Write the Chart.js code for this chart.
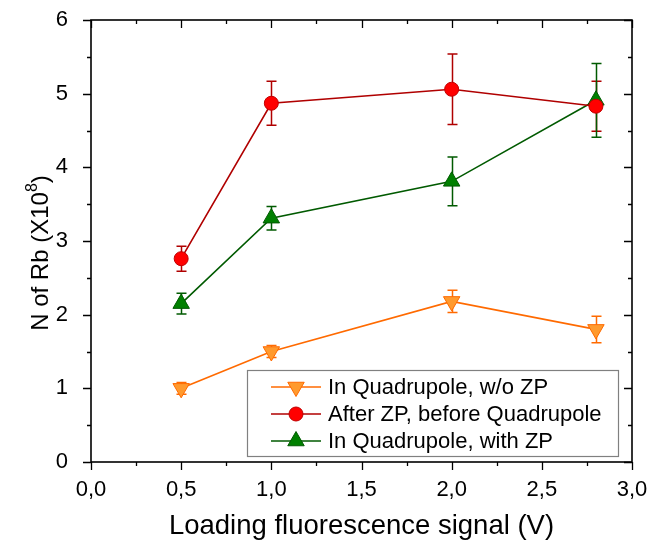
<!DOCTYPE html>
<html>
<head>
<meta charset="utf-8">
<script src="https://cdn.jsdelivr.net/npm/chart.js@4/dist/chart.umd.min.js"></script>
<style>
  html, body { margin: 0; padding: 0; background: #fff; }
  #wrap { width: 653px; height: 547px; }
</style>
</head>
<body>
<div id="wrap"><canvas id="myChart" width="653" height="547"></canvas></div>
<script>
const xValues = [0.5, 1.0, 2.0, 2.8];
const quadNoZp = [1.00, 1.50, 2.18, 1.80];
const quadNoZpErr = [0.08, 0.08, 0.15, 0.18];
const afterZp = [2.76, 4.87, 5.06, 4.83];
const afterZpErr = [0.17, 0.30, 0.48, 0.34];
const quadZp = [2.15, 3.31, 3.81, 4.91];
const quadZpErr = [0.14, 0.16, 0.33, 0.50];
const seriesLabels = ['In Quadrupole, w/o ZP', 'After ZP, before Quadrupole', 'In Quadrupole, with ZP'];

const FONT = '"Liberation Sans", Arial, sans-serif';

const toPoints = (vals) => vals.map((v, i) => ({x: xValues[i], y: v}));

const styles = [
    {line: '#ff6a00', fill: '#ff9a2e', border: '#ff6a00', style: 'triangle', rot: 180, r: 9.5, err: quadNoZpErr},
    {line: '#b00000', fill: '#ff0000', border: '#c00000', style: 'circle', rot: 0, r: 7, err: afterZpErr},
    {line: '#005a00', fill: '#008000', border: '#005a00', style: 'triangle', rot: 0, r: 9.5, err: quadZpErr}
];

const data = {
    datasets: [quadNoZp, afterZp, quadZp].map((vals, k) => ({
        label: seriesLabels[k],
        data: toPoints(vals),
        borderColor: styles[k].line,
        borderWidth: 1.6,
        backgroundColor: styles[k].fill,
        pointBackgroundColor: styles[k].fill,
        pointBorderColor: styles[k].border,
        pointBorderWidth: 1,
        pointStyle: styles[k].style,
        pointRotation: styles[k].rot,
        pointRadius: styles[k].r,
        errors: styles[k].err,
        tension: 0
    }))
};

// error bars, frame, ticks, y title and legend
const extras = {
    id: 'extras',
    beforeDatasetsDraw(chart) {
        const ctx = chart.ctx;
        const xs = chart.scales.x, ys = chart.scales.y;
        ctx.save();
        ctx.lineWidth = 1.5;
        chart.data.datasets.forEach(ds => {
            ctx.strokeStyle = ds.borderColor;
            ds.data.forEach((p, i) => {
                const px = Math.round(xs.getPixelForValue(p.x)) + 0.5;
                const top = ys.getPixelForValue(p.y + ds.errors[i]);
                const bot = ys.getPixelForValue(p.y - ds.errors[i]);
                ctx.beginPath();
                ctx.moveTo(px, top); ctx.lineTo(px, bot);
                ctx.moveTo(px - 5, top); ctx.lineTo(px + 5, top);
                ctx.moveTo(px - 5, bot); ctx.lineTo(px + 5, bot);
                ctx.stroke();
            });
        });
        ctx.restore();
    },
    afterDraw(chart) {
        const ctx = chart.ctx;
        const a = chart.chartArea;
        const xs = chart.scales.x, ys = chart.scales.y;
        ctx.save();
        ctx.strokeStyle = '#000';
        ctx.lineWidth = 1.6;
        ctx.strokeRect(a.left, a.top, a.right - a.left, a.bottom - a.top);
        ctx.lineWidth = 1.3;
        ctx.beginPath();
        for (let v = 0; v <= 3.0001; v += 0.25) {
            const px = Math.round(xs.getPixelForValue(v)) + 0.5;
            const major = Math.abs(v * 2 - Math.round(v * 2)) < 1e-6;
            const len = major ? 8 : 4;
            ctx.moveTo(px, a.bottom); ctx.lineTo(px, a.bottom + len);
            ctx.moveTo(px, a.top); ctx.lineTo(px, a.top + len);
        }
        for (let v = 0; v <= 6.0001; v += 0.5) {
            const py = Math.round(ys.getPixelForValue(v)) + 0.5;
            const major = Math.abs(v - Math.round(v)) < 1e-6;
            const len = major ? 8 : 4;
            ctx.moveTo(a.left, py); ctx.lineTo(a.left - len, py);
            ctx.moveTo(a.right, py); ctx.lineTo(a.right - len, py);
        }
        ctx.stroke();

        // y title with superscript
        ctx.save();
        ctx.translate(48, 253);
        ctx.rotate(-Math.PI / 2);
        ctx.fillStyle = '#000';
        ctx.textBaseline = 'alphabetic';
        const main = 'N of Rb (X10';
        ctx.font = '24px ' + FONT;
        const w1 = ctx.measureText(main).width;
        ctx.font = '16px ' + FONT;
        const w2 = ctx.measureText('8').width;
        ctx.font = '24px ' + FONT;
        const w3 = ctx.measureText(')').width;
        const x0 = -(w1 + w2 + w3) / 2;
        ctx.fillText(main, x0, 0);
        ctx.font = '16px ' + FONT;
        ctx.fillText('8', x0 + w1, -11);
        ctx.font = '24px ' + FONT;
        ctx.fillText(')', x0 + w1 + w2, 0);
        ctx.restore();

        // legend
        ctx.fillStyle = '#fff';
        ctx.fillRect(247, 370, 371, 86);
        ctx.strokeStyle = '#808080';
        ctx.lineWidth = 1.2;
        ctx.strokeRect(247.5, 370.5, 371, 86);
        const rows = [387, 414, 441];
        chart.data.datasets.forEach((ds, k) => {
            const y = rows[k];
            ctx.strokeStyle = ds.borderColor;
            ctx.lineWidth = 1.6;
            ctx.beginPath();
            ctx.moveTo(271, y); ctx.lineTo(321, y);
            ctx.stroke();
            ctx.fillStyle = ds.pointBackgroundColor;
            ctx.strokeStyle = ds.pointBorderColor;
            ctx.lineWidth = 1;
            Chart.helpers.drawPoint(ctx, {pointStyle: ds.pointStyle, rotation: ds.pointRotation, radius: ds.pointRadius, borderWidth: 1}, 296, y);
            ctx.fillStyle = '#000';
            ctx.font = '22px ' + FONT;
            ctx.textBaseline = 'middle';
            ctx.fillText(ds.label, 328, y + 1);
        });
        ctx.restore();
    }
};

const config = {
    type: 'line',
    data: data,
    options: {
        responsive: false,
        animation: false,
        layout: {padding: {top: 20, right: 21, left: 0, bottom: 0}},
        plugins: {
            legend: {display: false},
            tooltip: {enabled: false}
        },
        scales: {
            x: {
                type: 'linear',
                min: 0,
                max: 3,
                grid: {display: false},
                border: {display: false},
                afterFit: (s) => { s.height = 85; s.paddingLeft = 0; s.paddingRight = 0; },
                ticks: {
                    stepSize: 0.5,
                    color: '#000',
                    font: {family: FONT, size: 22},
                    padding: 7,
                    maxRotation: 0,
                    callback: (v) => v.toFixed(1).replace('.', ',')
                },
                title: {
                    display: true,
                    text: 'Loading fluorescence signal (V)',
                    color: '#000',
                    font: {family: FONT, size: 27.5},
                    padding: {top: 10}
                }
            },
            y: {
                min: 0,
                max: 6,
                grid: {display: false},
                border: {display: false},
                afterFit: (s) => { s.width = 91; s.paddingTop = 0; s.paddingBottom = 0; },
                ticks: {
                    stepSize: 1,
                    color: '#000',
                    font: {family: FONT, size: 22},
                    padding: 15
                }
            }
        }
    },
    plugins: [extras]
};

const graphe = new Chart(document.getElementById('myChart'), config);
</script>
</body>
</html>
